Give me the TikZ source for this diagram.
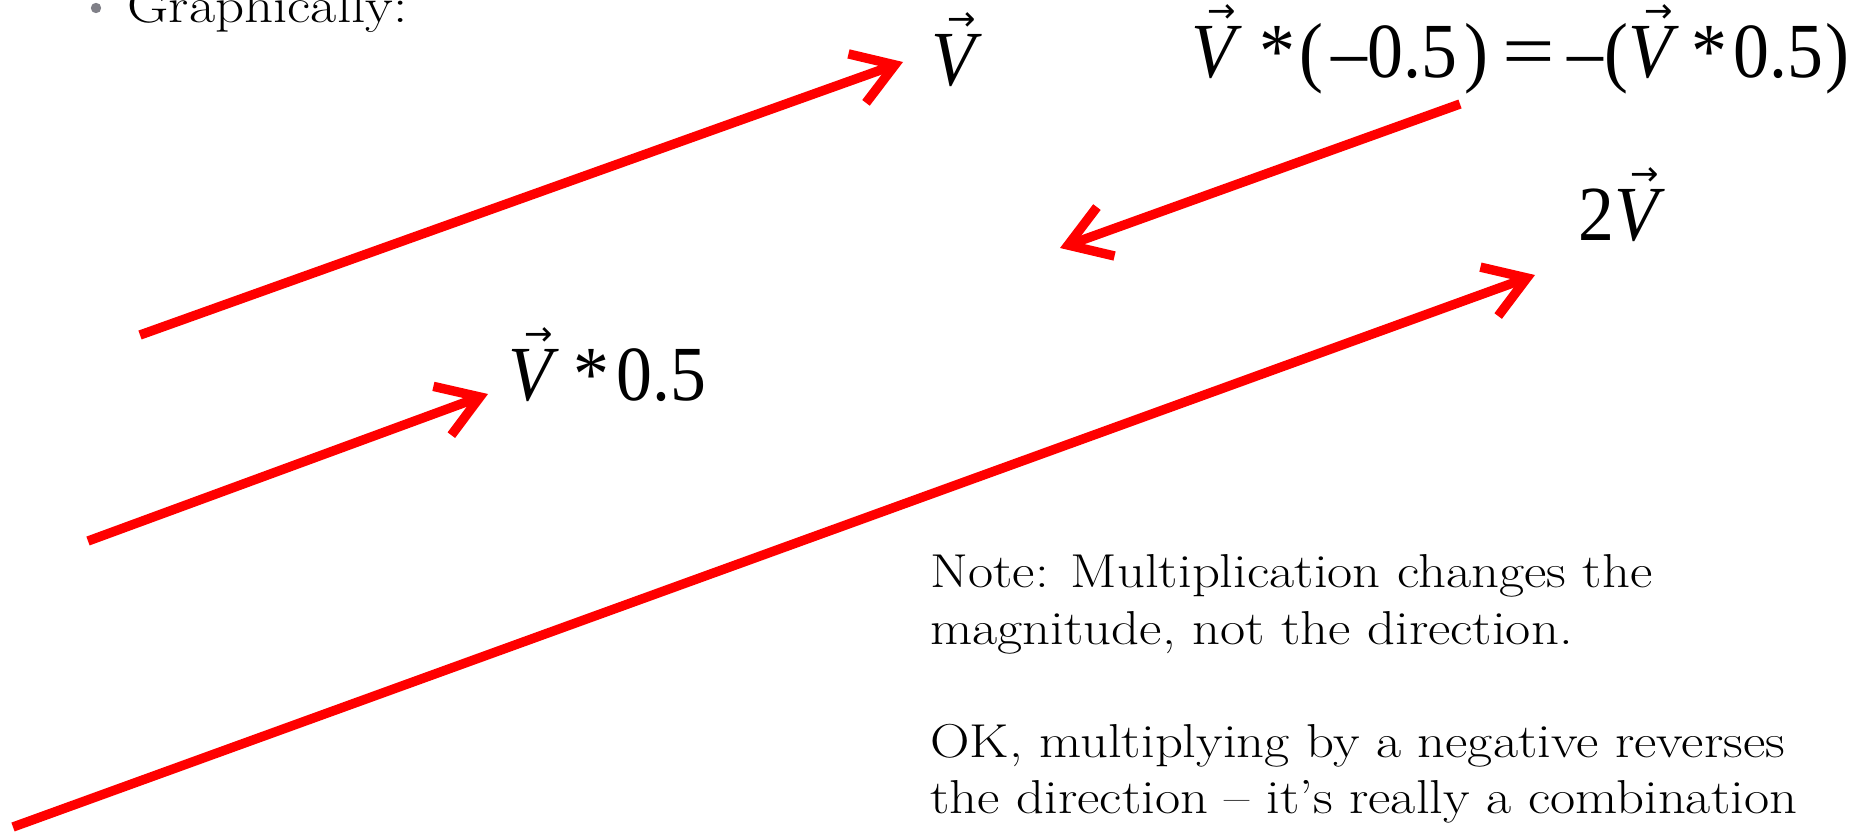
\documentclass[tikz,border=0pt]{standalone}
\usepackage{fontspec}
\usepackage{graphicx}
\usetikzlibrary{arrows.meta}
\setmainfont{Latin Modern Roman}[FakeStretch=1.15]
\newfontfamily\labfont{Liberation Serif}[FakeStretch=0.92]
\newfontfamily\arrfont{DejaVu Sans}
\newcommand\vecV{\makebox[0pt][l]{\hspace{8pt}\raisebox{27.5pt}{\fontsize{17}{17}\selectfont\arrfont →}}\textit{V}}
\tikzset{
  vecarrow/.style={draw=red, line width=4.7pt, -{Straight Barb[length=20pt,width=26pt]}},
  mathlab/.style={anchor=base west, inner sep=0pt, font=\labfont\fontsize{39}{39}\selectfont},
  notetext/.style={anchor=north west, inner sep=0pt, align=left, font=\fontsize{23.8}{28.3}\selectfont},
  headtext/.style={anchor=base west, inner sep=0pt, font=\fontsize{24.8}{28.3}\selectfont}
}
\begin{document}
\begin{tikzpicture}[x=0.5pt,y=-0.5pt]
\useasboundingbox (0,0) rectangle (1852,835);
\clip (0,0) rectangle (1852,835);
% bullet and heading
\fill[color={rgb,255:red,128;green,128;blue,136}] (96,8) circle (2.6pt);
\node[headtext] (head) at (127,23) {Graphically:};
% arrows
\coordinate (a1s) at (140,335); \coordinate (a1e) at (903,62);
\coordinate (a2s) at (88,541);  \coordinate (a2e) at (488,394);
\coordinate (a3s) at (1460,104); \coordinate (a3e) at (1060,248);
\coordinate (a4s) at (13,827);  \coordinate (a4e) at (1535,275);
\draw[vecarrow] (a1s) -- (a1e);
\draw[vecarrow] (a2s) -- (a2e);
\draw[vecarrow] (a3s) -- (a3e);
\draw[vecarrow] (a4s) -- (a4e);
% labels
\node[mathlab] (lV) at (931,85) {\vecV};
\node[mathlab] (lhalf) at (508,400) {\vecV\hspace{7pt}*\hspace{4pt}0.5};
\node[mathlab] (lneg) at (1191,77) {\vecV\hspace{8.5pt}*\hspace{2.5pt}(\hspace{4pt}–0.5\hspace{3.5pt})\hspace{7pt}\scalebox{1.3}[1]{=}\hspace{6pt}–\hspace{1pt}(\vecV\hspace{6pt}*\hspace{3pt}0.5\hspace{1pt})};
\node[mathlab] (ltwo) at (1578,240) {2\vecV};
% note
\node[notetext] (note) at (930,554) {Note: Multiplication changes the\\magnitude, not the direction.\\[28.3pt]OK, multiplying by a negative reverses\\the direction – it’s really a combination};
\end{tikzpicture}
\end{document}
